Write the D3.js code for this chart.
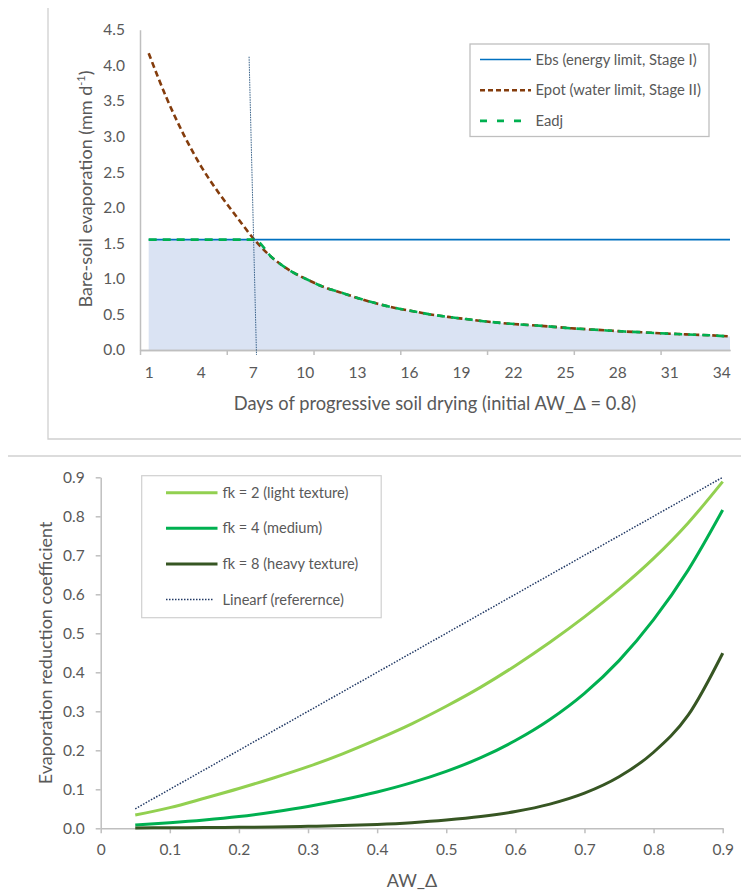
<!DOCTYPE html>
<html>
<head>
<meta charset="utf-8">
<script src="https://cdn.jsdelivr.net/npm/d3@7"></script>
<style>
  body { margin: 0; background: #fff; }
  text { font-family: Lato, "Open Sans", sans-serif; fill: #595959; }
</style>
</head>
<body>
<svg id="chart" width="741" height="892"></svg>
<script>
// ---- top chart data (days of drying) ----
let days = d3.range(1, 35);
let dayLabels = [1, 4, 7, 10, 13, 16, 19, 22, 25, 28, 31, 34];
let ebs = days.map(() => 1.55);
let epot = [4.17, 3.55, 3.02, 2.57, 2.2, 1.87, 1.55, 1.3, 1.12, 0.99, 0.88, 0.8, 0.72, 0.65, 0.59, 0.545, 0.5,
  0.465, 0.435, 0.405, 0.38, 0.36, 0.345, 0.325, 0.305, 0.29, 0.275, 0.26, 0.25, 0.235, 0.225, 0.215, 0.205, 0.19];
let eadj = [1.55, 1.55, 1.55, 1.55, 1.55, 1.55, 1.55, 1.3, 1.12, 0.99, 0.88, 0.8, 0.72, 0.65, 0.59, 0.545, 0.5,
  0.465, 0.435, 0.405, 0.38, 0.36, 0.345, 0.325, 0.305, 0.29, 0.275, 0.26, 0.25, 0.235, 0.225, 0.215, 0.205, 0.19];
let refDay = [6.7, 7.12];
let refVal = [4.12, -0.07];
let topTicks = [0, 0.5, 1, 1.5, 2, 2.5, 3, 3.5, 4, 4.5];

// ---- bottom chart data (AW_delta) ----
let aw = [0.05, 0.1, 0.15, 0.2, 0.25, 0.3, 0.35, 0.4, 0.45, 0.5, 0.55, 0.6, 0.65, 0.7, 0.75, 0.8, 0.85, 0.9];
let fk2 = [0.034, 0.053, 0.077, 0.102, 0.129, 0.158, 0.191, 0.228, 0.268, 0.313, 0.362, 0.417, 0.477, 0.542, 0.613, 0.692, 0.783, 0.889];
let fk4 = [0.0085, 0.014, 0.021, 0.03, 0.042, 0.056, 0.073, 0.093, 0.117, 0.146, 0.181, 0.225, 0.279, 0.346, 0.43, 0.535, 0.662, 0.816];
let fk8 = [0.001, 0.0013, 0.0018, 0.0025, 0.0035, 0.005, 0.007, 0.01, 0.0145, 0.021, 0.03, 0.043, 0.062, 0.09, 0.132, 0.195, 0.29, 0.449];
let linearf = [0.05, 0.1, 0.15, 0.2, 0.25, 0.3, 0.35, 0.4, 0.45, 0.5, 0.55, 0.6, 0.65, 0.7, 0.75, 0.8, 0.85, 0.9];
let bottomTicks = [0, 0.1, 0.2, 0.3, 0.4, 0.5, 0.6, 0.7, 0.8, 0.9];

let svg = d3.select("#chart");
let axisColor = "#bfbfbf";

// chart frames (partly visible borders)
svg.append("path").attr("d", "M48,8V439H741").attr("fill", "none").attr("stroke", "#d0d0d0").attr("stroke-width", 1.3);
svg.append("path").attr("d", "M8,456H741").attr("fill", "none").attr("stroke", "#d0d0d0").attr("stroke-width", 1.3);

// ================= top chart =================
let x1 = d3.scaleLinear().domain([0.5, 34.5]).range([140, 730]);
let xLine = d3.scaleLinear().domain([1, 34]).range([x1(1), 730]);
let y1 = d3.scaleLinear().domain([0, 4.5]).range([350, 29.7]);

let topChart = svg.append("g");

// area under Eadj
topChart.append("path")
  .datum(days)
  .attr("fill", "#dae3f3")
  .attr("d", d3.area()
    .x((d, i) => xLine(d))
    .y0(y1(0))
    .y1((d, i) => y1(eadj[i]))
    .curve(d3.curveMonotoneX));

// y axis
topChart.append("g")
  .attr("transform", "translate(140,0)")
  .call(d3.axisLeft(y1).tickValues(topTicks).tickFormat(d3.format(".1f")).tickSize(0).tickPadding(15));
// x axis labels
topChart.append("g")
  .attr("transform", "translate(0,350)")
  .call(d3.axisBottom(x1).tickValues(dayLabels).tickFormat(d3.format("d")).tickSize(0).tickPadding(17));
// x axis tick marks every 5 days
topChart.append("g")
  .attr("transform", "translate(0,350)")
  .call(d3.axisBottom(x1).tickValues([0.5, 5.5, 10.5, 15.5, 20.5, 25.5, 30.5]).tickFormat("").tickSize(5).tickSizeOuter(0));

topChart.selectAll(".domain, .tick line").attr("stroke", axisColor).attr("stroke-width", 1.5);
topChart.selectAll(".tick text").style("font-size", "15.5px").style("fill", "#595959").style("font-family", "Lato");

// Ebs line
topChart.append("path")
  .datum(days)
  .attr("fill", "none")
  .attr("stroke", "#0070c0")
  .attr("stroke-width", 1.6)
  .attr("d", d3.line().x((d) => xLine(d)).y((d, i) => y1(ebs[i])));

// Epot line
topChart.append("path")
  .datum(days)
  .attr("fill", "none")
  .attr("stroke", "#843c0c")
  .attr("stroke-width", 2.6)
  .attr("stroke-dasharray", "6,3.5")
  .attr("d", d3.line().x((d) => xLine(d)).y((d, i) => y1(epot[i])).curve(d3.curveMonotoneX));

// Eadj line
topChart.append("path")
  .datum(days)
  .attr("fill", "none")
  .attr("stroke", "#00b050")
  .attr("stroke-width", 2.6)
  .attr("stroke-dasharray", "8,6")
  .attr("d", d3.line().x((d) => xLine(d)).y((d, i) => y1(eadj[i])).curve(d3.curveMonotoneX));

// reference line at the day 7 break point
topChart.append("path")
  .datum(refDay)
  .attr("fill", "none")
  .attr("stroke", "#1f4e79")
  .attr("stroke-width", 0.9)
  .attr("stroke-dasharray", "1.5,1")
  .attr("d", d3.line().x((d) => xLine(d)).y((d, i) => y1(refVal[i])));

// titles
topChart.append("text")
  .attr("x", 435).attr("y", 410)
  .attr("text-anchor", "middle")
  .style("font-size", "18.3px")
  .text("Days of progressive soil drying (initial AW_Δ = 0.8)");

let yt = topChart.append("text")
  .attr("transform", "translate(91.5,189) rotate(-90)")
  .attr("text-anchor", "middle")
  .style("font-size", "18px");
yt.append("tspan").text("Bare-soil evaporation (mm d");
yt.append("tspan").attr("dy", -7).style("font-size", "11px").text("-1");
yt.append("tspan").attr("dy", 7).text(")");

// legend top
let legTop = topChart.append("g");
legTop.append("rect")
  .attr("x", 470).attr("y", 44).attr("width", 239).attr("height", 92.5)
  .attr("fill", "#fff").attr("stroke", "#bfbfbf").attr("stroke-width", 1.3);
let topKeys = ["Ebs (energy limit, Stage I)", "Epot (water limit, Stage II)", "Eadj"];
let topColors = ["#0070c0", "#843c0c", "#00b050"];
let topDash = ["none", "5,3", "7,10"];
let topWidth = [1.6, 2.6, 2.6];
legTop.selectAll("line")
  .data(topKeys)
  .enter()
  .append("line")
  .attr("x1", 480).attr("x2", 531)
  .attr("y1", (d, i) => 59.5 + i * 30.7)
  .attr("y2", (d, i) => 59.5 + i * 30.7)
  .attr("stroke", (d, i) => topColors[i])
  .attr("stroke-width", (d, i) => topWidth[i])
  .attr("stroke-dasharray", (d, i) => topDash[i]);
legTop.selectAll("text")
  .data(topKeys)
  .enter()
  .append("text")
  .attr("x", 535.5)
  .attr("y", (d, i) => 59.5 + i * 30.7)
  .attr("dy", "0.35em")
  .style("font-size", "14.8px")
  .text((d) => d);

// ================= bottom chart =================
let x2 = d3.scaleLinear().domain([0, 0.9]).range([100.7, 722.7]);
let y2 = d3.scaleLinear().domain([0, 0.9]).range([828.3, 477.3]);

let bot = svg.append("g");

bot.append("g")
  .attr("transform", "translate(100.7,0)")
  .call(d3.axisLeft(y2).tickValues(bottomTicks).tickFormat(d3.format(".1f")).tickSize(5).tickSizeOuter(0).tickPadding(11));
bot.append("g")
  .attr("transform", "translate(0,828.3)")
  .call(d3.axisBottom(x2).tickValues(bottomTicks).tickFormat((d) => (d === 0 ? "0" : d3.format(".1f")(d))).tickSize(5).tickSizeOuter(0).tickPadding(11));

bot.selectAll(".domain, .tick line").attr("stroke", axisColor).attr("stroke-width", 1.5);
bot.selectAll(".tick text").style("font-size", "15.5px").style("fill", "#595959").style("font-family", "Lato");

let botSeries = [linearf, fk2, fk4, fk8];
let botColors = ["#203864", "#92d050", "#00b050", "#375623"];
let botWidth = [1.5, 3, 3, 3];
let botDash = ["1.5,1.5", "none", "none", "none"];

bot.selectAll(".series")
  .data(botSeries)
  .enter()
  .append("path")
  .attr("class", "series")
  .attr("fill", "none")
  .attr("stroke", (d, i) => botColors[i])
  .attr("stroke-width", (d, i) => botWidth[i])
  .attr("stroke-dasharray", (d, i) => botDash[i])
  .attr("d", (s) => d3.line().x((d, i) => x2(aw[i])).y((d) => y2(d)).curve(d3.curveMonotoneX)(s));

bot.append("text")
  .attr("x", 412).attr("y", 887)
  .attr("text-anchor", "middle")
  .style("font-size", "18px")
  .text("AW_Δ");

bot.append("text")
  .attr("transform", "translate(52,653) rotate(-90)")
  .attr("text-anchor", "middle")
  .style("font-size", "18px")
  .text("Evaporation reduction coefficient");

// legend bottom
let legBot = bot.append("g");
legBot.append("rect")
  .attr("x", 141.7).attr("y", 475.7).attr("width", 239.5).attr("height", 142)
  .attr("fill", "#fff").attr("stroke", "#d0d0d0").attr("stroke-width", 1.2);
let botKeys = ["fk = 2 (light texture)", "fk = 4 (medium)", "fk = 8 (heavy texture)", "Linearf (referernce)"];
let legColors = ["#92d050", "#00b050", "#375623", "#203864"];
let legWidth = [3, 3, 3, 1.5];
let legDash = ["none", "none", "none", "1.5,1.5"];
legBot.selectAll("line")
  .data(botKeys)
  .enter()
  .append("line")
  .attr("x1", 166).attr("x2", (d, i) => (i === 3 ? 213 : 217.5))
  .attr("y1", (d, i) => 492.7 + i * 35.6)
  .attr("y2", (d, i) => 492.7 + i * 35.6)
  .attr("stroke", (d, i) => legColors[i])
  .attr("stroke-width", (d, i) => legWidth[i])
  .attr("stroke-dasharray", (d, i) => legDash[i]);
legBot.selectAll("text")
  .data(botKeys)
  .enter()
  .append("text")
  .attr("x", 222.5)
  .attr("y", (d, i) => 492.7 + i * 35.6)
  .attr("dy", "0.35em")
  .style("font-size", "14.6px")
  .text((d) => d);
</script>
</body>
</html>
